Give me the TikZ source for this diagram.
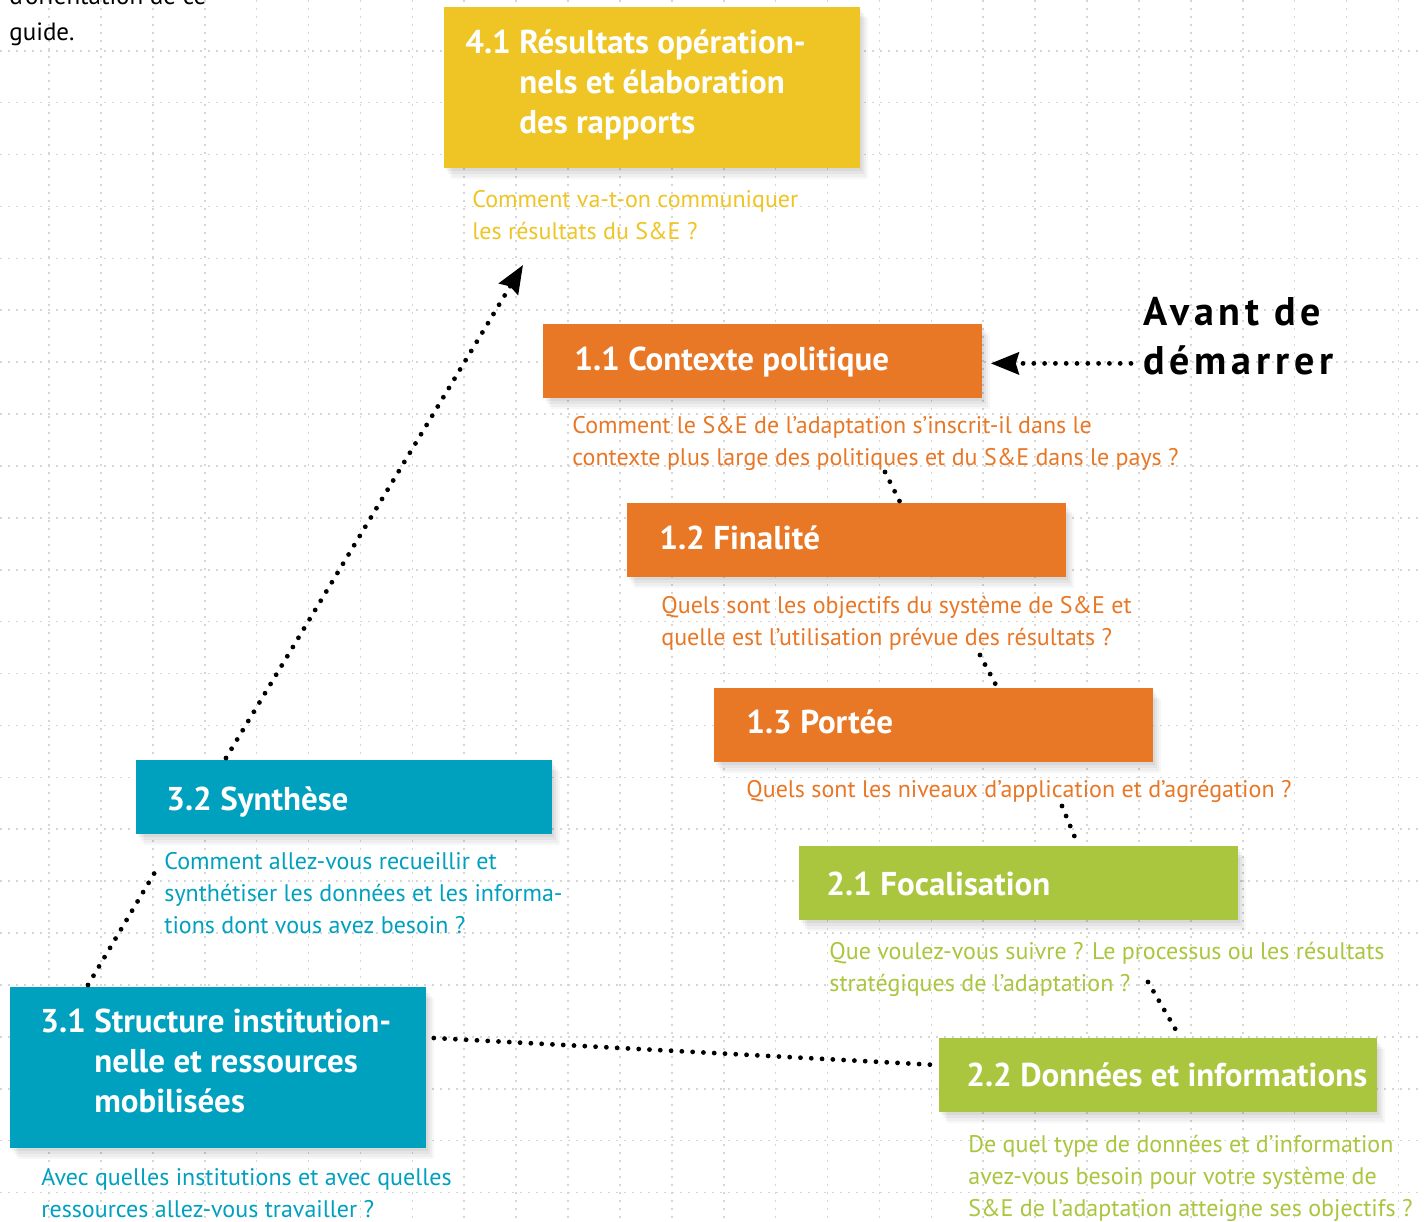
\documentclass[tikz,border=0pt]{standalone}
\usepackage{fontspec}
\setmainfont{PT Sans}
\usetikzlibrary{calc,arrows.meta,shadows}
\definecolor{cyel}{HTML}{EEC524}
\definecolor{corg}{HTML}{E87726}
\definecolor{cgrn}{HTML}{A9C63E}
\definecolor{cblu}{HTML}{00A0BF}
\definecolor{cgrid}{HTML}{D6D6D6}
\newcommand{\lns}[1]{\begin{tabular}[t]{@{}l@{}}#1\end{tabular}}
\newcommand{\hng}[1]{\begin{tabular}[t]{@{}l@{\ }l@{}}#1\end{tabular}}
\tikzset{
 gridline/.style={cgrid, line width=0.8pt, dash pattern=on 0.8pt off 3.2pt},
 softshadow/.style={
   general shadow={fill=black, opacity=0.045, shadow xshift=1pt, shadow yshift=-1.5pt},
   general shadow={fill=black, opacity=0.04, shadow xshift=2pt, shadow yshift=-3pt},
   general shadow={fill=black, opacity=0.035, shadow xshift=3pt, shadow yshift=-4.5pt},
   general shadow={fill=black, opacity=0.03, shadow xshift=4pt, shadow yshift=-5.5pt}},
 box/.style={rectangle, inner sep=0pt, anchor=north west, softshadow},
 ttl/.style={inner sep=0pt, anchor=base west, text=white, font=\fontsize{16.5pt}{20pt}\selectfont\bfseries},
 qtxt/.style={inner sep=0pt, anchor=base west, font=\fontsize{12pt}{16pt}\selectfont},
 dotline/.style={line width=2.4pt, dash pattern=on 0pt off 5.4pt, line cap=round},
 arr/.style={-{Stealth[length=14pt, width=11pt, inset=1.5pt]}},
}
\begin{document}
\begin{tikzpicture}[x=0.5pt,y=-0.5pt]
\useasboundingbox (0,0) rectangle (1424,1221);
\clip (0,0) rectangle (1424,1221);
\fill[white] (0,0) rectangle (1424,1221);
% grid
\foreach \i in {0,...,26} \draw[gridline] ({49+51.9*\i},0) -- ({49+51.9*\i},1221);
\foreach \j in {-1,...,22} \draw[gridline] (0,{50.7+51.9*\j}) -- (1424,{50.7+51.9*\j});

% intro text
\node[inner sep=0pt, anchor=base west, font=\fontsize{12.5pt}{18pt}\selectfont] (intro) at (9,4) {\lns{d’orientation de ce\\guide.}};

% boxes
\node[box, fill=cyel, minimum width=208pt, minimum height=80.5pt] (b41) at (444,7) {};
\node[box, fill=corg, minimum width=219.5pt, minimum height=37pt] (b11) at (543,324) {};
\node[box, fill=corg, minimum width=219.5pt, minimum height=37pt] (b12) at (627,503) {};
\node[box, fill=corg, minimum width=219.5pt, minimum height=37pt] (b13) at (714,688) {};
\node[box, fill=cgrn, minimum width=219.5pt, minimum height=37pt] (b21) at (799,846) {};
\node[box, fill=cgrn, minimum width=219pt, minimum height=37pt] (b22) at (939,1038) {};
\node[box, fill=cblu, minimum width=208pt, minimum height=37pt] (b32) at (136,760) {};
\node[box, fill=cblu, minimum width=208pt, minimum height=80.5pt] (b31) at (10,987) {};

% titles
\node[ttl] (t41) at (465,53) {\hng{4.1&Résultats opération-\\&nels et élaboration\\&des rapports}};
\node[ttl] (t11) at (574,370) {1.1 Contexte politique};
\node[ttl] (t12) at (659,549) {1.2 Finalité};
\node[ttl] (t13) at (746,733) {1.3 Portée};
\node[ttl] (t21) at (826,895) {2.1 Focalisation};
\node[ttl] (t22) at (966,1086) {2.2 Données et informations};
\node[ttl] (t32) at (166,810) {3.2 Synthèse};
\node[ttl] (t31) at (40,1032) {\hng{3.1&Structure institution-\\&nelle et ressources\\&mobilisées}};

% questions
\node[qtxt, text=cyel] (q41) at (472,207) {\lns{Comment va-t-on communiquer\\les résultats du S\&E~?}};
\node[qtxt, text=corg] (q11) at (572,433) {\lns{Comment le S\&E de l’adaptation s’inscrit-il dans le\\contexte plus large des politiques et du S\&E dans le pays~?}};
\node[qtxt, text=corg] (q12) at (661,613) {\lns{Quels sont les objectifs du système de S\&E et\\quelle est l’utilisation prévue des résultats~?}};
\node[qtxt, text=corg] (q13) at (746,797) {Quels sont les niveaux d’application et d’agrégation~?};
\node[qtxt, text=cgrn] (q21) at (829,959) {\lns{Que voulez-vous suivre~? Le processus ou les résultats\\stratégiques de l’adaptation~?}};
\node[qtxt, text=cgrn] (q22) at (968,1152) {\lns{De quel type de données et d’information\\avez-vous besoin pour votre système de\\S\&E de l’adaptation atteigne ses objectifs~?}};
\node[qtxt, text=cblu] (q32) at (164,869) {\lns{Comment allez-vous recueillir et\\synthétiser les données et les informa-\\tions dont vous avez besoin~?}};
\node[qtxt, text=cblu] (q31) at (41,1185) {\lns{Avec quelles institutions et avec quelles\\ressources allez-vous travailler~?}};

% side heading
\node[inner sep=0pt, anchor=base west, font=\fontsize{20pt}{24.5pt}\selectfont\bfseries\addfontfeature{LetterSpace=12}] (avant) at (1143,325) {\lns{Avant de\\démarrer}};

% connector ends
\coordinate (e41) at (523,265);
\coordinate (s12) at (885,472);
\coordinate (s13) at (980,655);
\coordinate (s21) at (1062,806);
\coordinate (s22) at (1148,982);
\coordinate (e32) at (158,867);

% connectors
\draw[dotline, arr] ($(b32.north west)+(90,-2)$) -- (e41);
\draw[dotline, arr] ($(avant.west |- b11.east)+(-12,2)$) -- ($(b11.east)+(8,2)$);
\draw[dotline] (s12) -- ($(b12.north west)+(273,-1)$);
\draw[dotline] (s13) -- ($(b13.north west)+(283,-1)$);
\draw[dotline] (s21) -- ($(b21.north west)+(279,-1)$);
\draw[dotline] (s22) -- ($(b22.north west)+(241,-1)$);
\draw[dotline] ($(b31.north east)+(7,51)$) -- ($(b22.north west)+(-2,27)$);
\draw[dotline] ($(b31.north west)+(78,-2)$) -- (e32);
\end{tikzpicture}
\end{document}
